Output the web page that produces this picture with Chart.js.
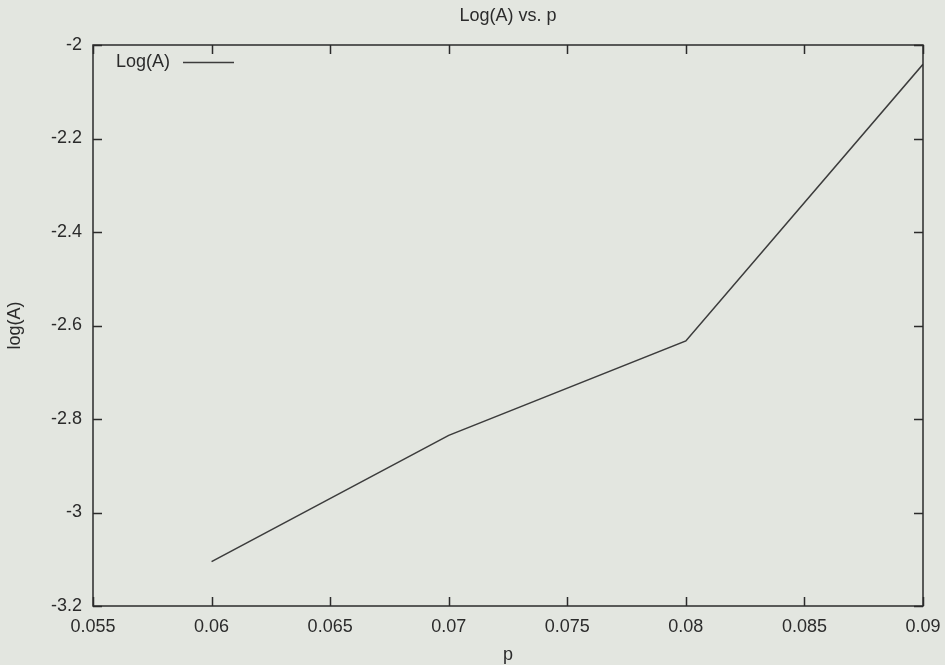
<!DOCTYPE html>
<html>
<head>
<meta charset="utf-8">
<script src="https://cdn.jsdelivr.net/npm/chart.js@4/dist/chart.umd.min.js"></script>
<style>
  html, body { margin: 0; padding: 0; background: #e3e6e0; }
  #wrap { width: 945px; height: 665px; }
</style>
</head>
<body>
<div id="wrap"><canvas id="chart"></canvas></div>
<script>
const pValues = [0.06, 0.07, 0.08, 0.09];
const logAValues = [-3.105, -2.835, -2.633, -2.041];
const xTickRange = [0.055, 0.09, 0.005];
const yTickRange = [-3.2, -2, 0.2];

const INK = '#2b2b2b';
const FONT = 'Liberation Sans, Arial, Helvetica, sans-serif';

// gnuplot-like frame: background, full border box, inward ticks on all four sides, inline key
const framePlugin = {
    id: 'frame',
    beforeDraw(chart) {
        const {ctx, width, height} = chart;
        ctx.save();
        ctx.fillStyle = '#e3e6e0';
        ctx.fillRect(0, 0, width, height);
        ctx.restore();
    },
    afterDraw(chart) {
        const {ctx, chartArea: a, scales} = chart;
        const len = 9;
        ctx.save();
        ctx.strokeStyle = INK;
        ctx.lineWidth = 1.5;
        ctx.beginPath();
        scales.x.ticks.forEach(t => {
            const px = Math.round(scales.x.getPixelForValue(t.value)) + 0.5;
            ctx.moveTo(px, a.bottom); ctx.lineTo(px, a.bottom - len);
            ctx.moveTo(px, a.top); ctx.lineTo(px, a.top + len);
        });
        scales.y.ticks.forEach(t => {
            const py = Math.round(scales.y.getPixelForValue(t.value)) + 0.5;
            ctx.moveTo(a.left, py); ctx.lineTo(a.left + len, py);
            ctx.moveTo(a.right, py); ctx.lineTo(a.right - len, py);
        });
        ctx.stroke();
        ctx.strokeRect(a.left, a.top, a.right - a.left, a.bottom - a.top);

        // key
        const ds = chart.data.datasets[0];
        const ky = a.top + 17;
        ctx.font = '18px ' + FONT;
        ctx.fillStyle = INK;
        ctx.textBaseline = 'middle';
        ctx.textAlign = 'left';
        ctx.fillText(ds.label, a.left + 23, ky);
        ctx.strokeStyle = ds.borderColor;
        ctx.lineWidth = ds.borderWidth;
        ctx.beginPath();
        ctx.moveTo(a.left + 90, ky + 0.5);
        ctx.lineTo(a.left + 141, ky + 0.5);
        ctx.stroke();
        ctx.restore();
    }
};

function fmt(v) {
    return String(parseFloat(v.toFixed(4)));
}

new Chart(document.getElementById('chart'), {
    type: 'line',
    data: {
        datasets: [{
            label: 'Log(A)',
            data: pValues.map((p, i) => ({x: p, y: logAValues[i]})),
            borderColor: '#3c3c3c',
            borderWidth: 1.6,
            pointRadius: 0,
            tension: 0,
            fill: false
        }]
    },
    options: {
        responsive: true,
        maintainAspectRatio: false,
        animation: false,
        layout: {padding: {left: 0, right: 22, top: 0, bottom: 0}},
        plugins: {
            legend: {display: false},
            tooltip: {enabled: false},
            title: {
                display: true,
                fullSize: false,
                text: 'Log(A) vs. p',
                color: INK,
                font: {family: FONT, size: 18, weight: 'normal', lineHeight: 1.2},
                padding: {top: 5, bottom: 18.4}
            }
        },
        scales: {
            x: {
                type: 'linear',
                min: xTickRange[0],
                max: xTickRange[1],
                ticks: {
                    stepSize: xTickRange[2],
                    color: INK,
                    padding: 10,
                    maxRotation: 0,
                    font: {family: FONT, size: 18},
                    callback: v => fmt(v)
                },
                grid: {display: false, drawTicks: false},
                border: {display: false},
                title: {
                    display: true,
                    text: 'p',
                    color: INK,
                    font: {family: FONT, size: 18},
                    padding: {top: 0, bottom: -1}
                },
                afterFit(s) {
                    s.height = 59;
                    s.paddingLeft = 0; s.paddingRight = 0;
                }
            },
            y: {
                type: 'linear',
                min: yTickRange[0],
                max: yTickRange[1],
                ticks: {
                    stepSize: yTickRange[2],
                    color: INK,
                    padding: 11,
                    font: {family: FONT, size: 18},
                    callback: v => fmt(v)
                },
                grid: {display: false, drawTicks: false},
                border: {display: false},
                title: {
                    display: true,
                    text: 'log(A)',
                    color: INK,
                    font: {family: FONT, size: 18},
                    padding: {top: 4, bottom: 0}
                },
                afterFit(s) {
                    s.width = 93;
                    s.paddingTop = 0; s.paddingBottom = 0;
                }
            }
        }
    },
    plugins: [framePlugin]
});
</script>
</body>
</html>
